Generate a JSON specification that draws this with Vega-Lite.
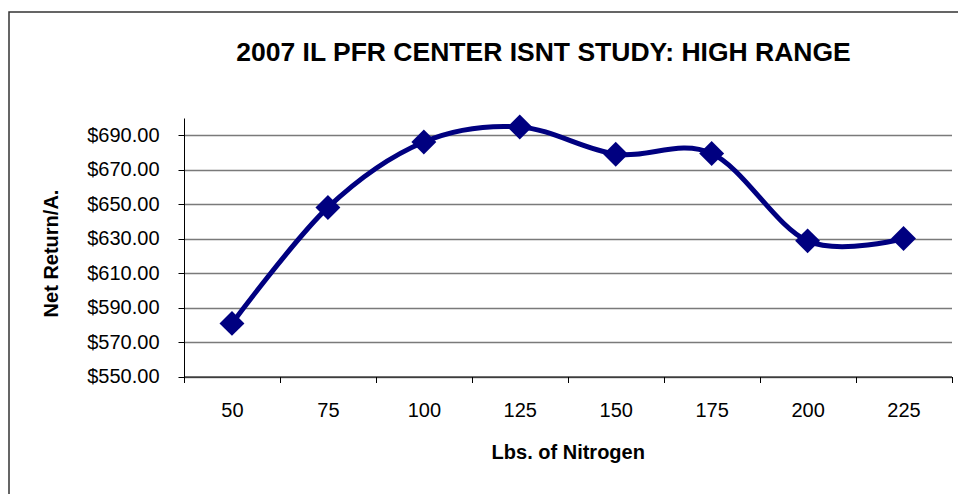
{
  "$schema": "https://vega.github.io/schema/vega-lite/v6.json",
  "autosize": {"type": "none"},
  "padding": {"left": 9, "top": 12, "right": 0, "bottom": 0},
  "width": 960,
  "height": 490,
  "background": "white",
  "config": {
    "font": "Liberation Sans",
    "view": {"stroke": "#333333", "strokeWidth": 1.5}
  },
  "title": {
    "text": "2007 IL PFR CENTER ISNT STUDY: HIGH RANGE",
    "frame": "group",
    "anchor": "middle",
    "baseline": "alphabetic",
    "offset": -48,
    "dy": 27,
    "dx": 54.5,
    "fontSize": 26.5,
    "fontWeight": "bold",
    "color": "#000000"
  },
  "data": {
    "values": [
      {"n": 50, "r": 580.8},
      {"n": 75, "r": 648.1},
      {"n": 100, "r": 686.1},
      {"n": 125, "r": 694.8},
      {"n": 150, "r": 679.0},
      {"n": 175, "r": 679.4},
      {"n": 200, "r": 628.7},
      {"n": 225, "r": 630.1}
    ]
  },
  "encoding": {
    "x": {
      "field": "n",
      "type": "ordinal",
      "sort": null,
      "scale": {"range": [175, 942.5], "paddingInner": 0, "paddingOuter": 0},
      "axis": {
        "title": "Lbs. of Nitrogen",
        "orient": "bottom",
        "offset": -125.5,
        "tickBand": "extent",
        "labelAngle": 0,
        "grid": false,
        "domainColor": "#000000",
        "tickColor": "#000000",
        "tickSize": 6,
        "labelFontSize": 20,
        "labelColor": "#000000",
        "labelPadding": 17.5,
        "titleFontSize": 20,
        "titleFontWeight": "bold",
        "titleColor": "#000000",
        "titlePadding": 22
      }
    },
    "y": {
      "field": "r",
      "type": "quantitative",
      "scale": {"domain": [550, 700], "range": [364.5, 106], "nice": false, "zero": false},
      "axis": {
        "title": "Net Return/A.",
        "orient": "left",
        "offset": -175,
        "values": [550, 570, 590, 610, 630, 650, 670, 690],
        "format": "$,.2f",
        "grid": true,
        "gridColor": "#7a7a7a",
        "gridWidth": 1.5,
        "domainColor": "#000000",
        "tickColor": "#000000",
        "tickSize": 6,
        "labelFontSize": 20,
        "labelColor": "#000000",
        "labelPadding": 19,
        "titleFontSize": 20,
        "titleFontWeight": "bold",
        "titleColor": "#000000",
        "titlePadding": 25,
        "titleY": 241
      }
    }
  },
  "layer": [
    {"mark": {"type": "line", "interpolate": "cardinal", "tension": 0, "color": "#000080", "strokeWidth": 5}},
    {"mark": {"type": "point", "shape": "diamond", "filled": true, "size": 620, "color": "#000080", "opacity": 1}}
  ]
}
